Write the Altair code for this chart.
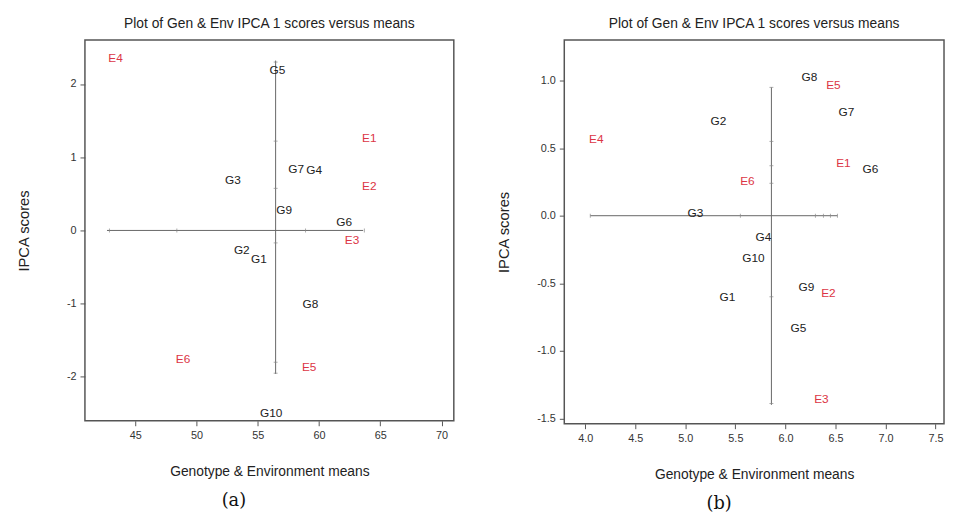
import altair as alt
import pandas as pd

# ---------------- data ----------------
gen_names = ["G1", "G2", "G3", "G4", "G5", "G6", "G7", "G8", "G9", "G10"]
env_names = ["E1", "E2", "E3", "E4", "E5", "E6"]

# panel (a)
a_gen_mean = [55.1, 53.7, 52.98, 59.6, 56.6, 62.05, 58.13, 59.3, 57.16, 56.1]
a_gen_ipca = [-0.39, -0.27, 0.69, 0.82, 2.19, 0.12, 0.84, -1.0, 0.28, -2.49]
a_env_mean = [64.1, 64.1, 62.7, 43.4, 59.2, 48.9]
a_env_ipca = [1.26, 0.61, -0.13, 2.36, -1.87, -1.76]
a_grand_mean = 56.46
a_hline = [42.7, 63.6]
a_vline = [-1.96, 2.32]
a_hticks = [42.9, 48.4, 58.9, 63.7]
a_vticks = [2.3, 1.22, 0.575, -0.17, -1.80, -1.95]

# panel (b)
b_gen_mean = [5.42, 5.33, 5.10, 5.78, 6.13, 6.85, 6.61, 6.24, 6.21, 5.68]
b_gen_ipca = [-0.60, 0.70, 0.02, -0.16, -0.83, 0.345, 0.77, 1.03, -0.53, -0.31]
b_env_mean = [6.58, 6.43, 6.36, 4.11, 6.48, 5.62]
b_env_ipca = [0.39, -0.57, -1.36, 0.57, 0.97, 0.26]
b_grand_mean = 5.86
b_hline = [4.05, 6.52]
b_vline = [-1.40, 0.95]
b_hticks = [4.05, 5.55, 6.30, 6.38, 6.45, 6.52]
b_vticks = [0.95, 0.55, 0.37, 0.24, -0.60, -1.39]

TITLE = "Plot of Gen & Env IPCA 1 scores versus means"
XTITLE = "Genotype & Environment means"
YTITLE = "IPCA scores"
FONT = "Liberation Sans"
HYPHEN = "replace(datum.label, '\u2212', '-')"


def panel(gm, gi, em, ei, grand, hl, vl, ht, vt, xdom, ydom, xticks, yticks,
          fmt, w, h, tag, tag_x):
    pts = pd.DataFrame({
        "name": gen_names + env_names,
        "mean": gm + em,
        "ipca": gi + ei,
        "kind": ["G"] * len(gen_names) + ["E"] * len(env_names),
    })
    xs = alt.Scale(domain=xdom, nice=False, zero=False)
    ys = alt.Scale(domain=ydom, nice=False, zero=False)
    xaxis = alt.Axis(values=xticks, format=fmt[0], title=XTITLE, grid=False,
                     domain=False, tickSize=5, tickColor="#555", labelColor="#333",
                     labelFontSize=11, labelFont=FONT, labelPadding=4,
                     labelExpr=HYPHEN,
                     titleFont=FONT, titleFontSize=14, titleFontWeight="normal",
                     titleColor="#222", titleY=51, titleBaseline="middle")
    yaxis = alt.Axis(values=yticks, format=fmt[1], title=YTITLE, grid=False,
                     domain=False, tickSize=5, tickColor="#555", labelColor="#333",
                     labelFontSize=11, labelFont=FONT, labelPadding=4,
                     labelExpr=HYPHEN,
                     titleFont=FONT, titleFontSize=15, titleFontWeight="normal",
                     titleColor="#222", titleX=-62, titleY=h / 2,
                     titleBaseline="middle", titleAngle=-90)

    base = alt.Chart(pts)
    labels = base.mark_text(font=FONT, fontSize=12, align="center",
                            baseline="middle").encode(
        x=alt.X("mean:Q", scale=xs, axis=xaxis),
        y=alt.Y("ipca:Q", scale=ys, axis=yaxis),
        text="name:N",
        color=alt.Color("kind:N", scale=alt.Scale(domain=["G", "E"],
                                                   range=["#222222", "#dc3545"]),
                        legend=None),
    )
    hdf = pd.DataFrame({"x": [hl[0]], "x2": [hl[1]], "y": [0.0]})
    vdf = pd.DataFrame({"y": [vl[0]], "y2": [vl[1]], "x": [grand]})
    hrule = alt.Chart(hdf).mark_rule(color="#666", strokeWidth=1).encode(
        x=alt.X("x:Q", scale=xs), x2="x2:Q", y=alt.Y("y:Q", scale=ys))
    vrule = alt.Chart(vdf).mark_rule(color="#666", strokeWidth=1).encode(
        y=alt.Y("y:Q", scale=ys), y2="y2:Q", x=alt.X("x:Q", scale=xs))
    htk = alt.Chart(pd.DataFrame({"x": ht, "y": [0.0] * len(ht)})).mark_tick(
        orient="vertical", size=4, thickness=1, color="#888").encode(
        x=alt.X("x:Q", scale=xs), y=alt.Y("y:Q", scale=ys))
    vtk = alt.Chart(pd.DataFrame({"y": vt, "x": [grand] * len(vt)})).mark_tick(
        orient="horizontal", size=4, thickness=1, color="#888").encode(
        x=alt.X("x:Q", scale=xs), y=alt.Y("y:Q", scale=ys))
    tagc = alt.Chart(pd.DataFrame({"t": [tag]})).mark_text(
        font="DejaVu Serif", fontSize=18, align="center", baseline="middle",
        color="#111").encode(text="t:N", x=alt.value(tag_x), y=alt.value(h + 81))
    return alt.layer(hrule, vrule, htk, vtk, labels, tagc).properties(
        width=w, height=h,
        title=alt.TitleParams(TITLE, font=FONT, fontSize=14, fontWeight="normal",
                              color="#222", anchor="middle", offset=9),
    )


pa = panel(a_gen_mean, a_gen_ipca, a_env_mean, a_env_ipca, a_grand_mean,
           a_hline, a_vline, a_hticks, a_vticks, [40.9, 71], [-2.6, 2.6],
           [45, 50, 55, 60, 65, 70], [-2, -1, 0, 1, 2], ("d", "d"),
           374, 386, "(a)", 151)
pb = panel(b_gen_mean, b_gen_ipca, b_env_mean, b_env_ipca, b_grand_mean,
           b_hline, b_vline, b_hticks, b_vticks, [3.79, 7.585], [-1.54, 1.30],
           [4.0, 4.5, 5.0, 5.5, 6.0, 6.5, 7.0, 7.5], [-1.5, -1.0, -0.5, 0.0, 0.5, 1.0],
           (".1f", ".1f"), 385, 389, "(b)", 157)

chart = alt.hconcat(pa, pb, spacing=112, bounds="flush").properties(
    padding={"left": 8, "top": 5, "right": 0, "bottom": 0},
    background="white",
).configure_view(stroke="#555", strokeWidth=1.5)

chart.save("out.html", embed_options={"renderer": "svg", "actions": False})
